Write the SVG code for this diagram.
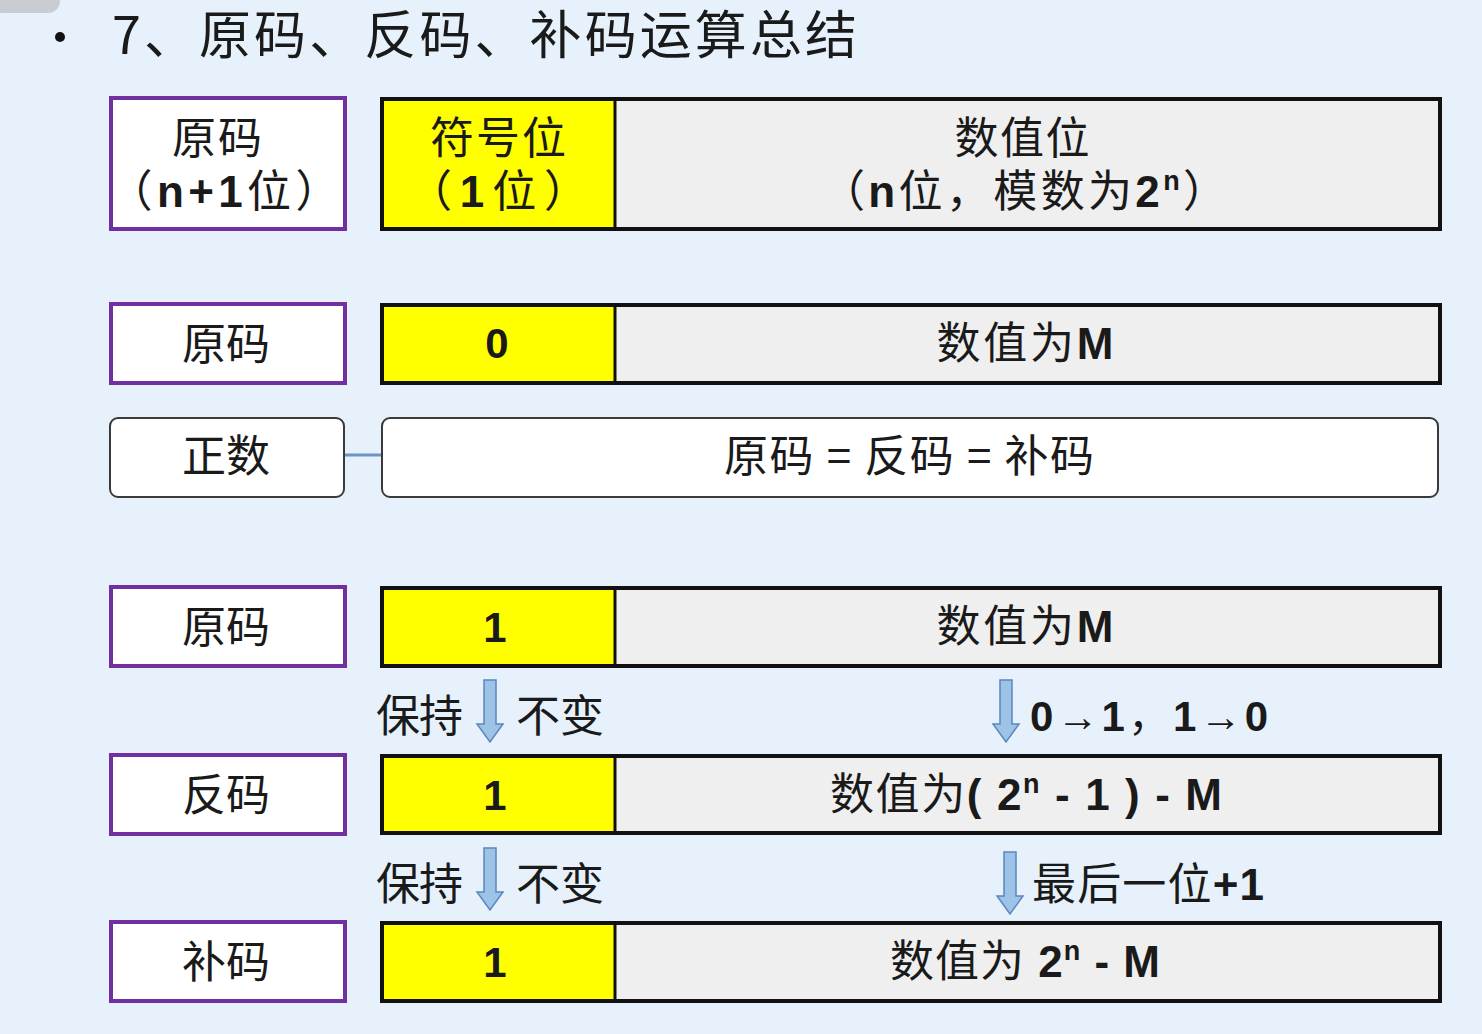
<svg xmlns="http://www.w3.org/2000/svg" width="1482" height="1034" viewBox="0 0 1482 1034">
<style>
.cn{font-family:"Noto Sans CJK SC","Liberation Sans",sans-serif;fill:#1a1a1a}
.mx{font-family:"Liberation Sans","Noto Sans CJK SC",sans-serif;fill:#1a1a1a}
.b{font-weight:bold}
.lbl{fill:#ffffff;stroke:#7030a0;stroke-width:4}
.sign{fill:#ffff00;stroke:none}
.val{fill:#efefef;stroke:none}
.frame{fill:none;stroke:#111111;stroke-width:4}
.div{stroke:#111111;stroke-width:3}
.rnd{fill:#ffffff;stroke:#3a3a3a;stroke-width:2}
.arr{fill:#9dc3e6;stroke:#5b86c0;stroke-width:1.5}
</style>
<defs>
<path id="down" d="M-6,0 L6,0 L6,44 L13,44 L0,62 L-13,44 L-6,44 Z"/>
</defs>
<rect width="1482" height="1034" fill="#e6f1fb"/>
<rect x="-10" y="-20" width="70" height="33" rx="12" fill="#c9cdd2"/>
<g id="title">
<circle cx="60" cy="37" r="5" fill="#111"/>
<text x="112" y="54" class="cn" font-size="52" textLength="745" lengthAdjust="spacing">7、原码、反码、补码运算总结</text>
</g>
<g id="connectors">
<line x1="345" y1="455" x2="382" y2="455" stroke="#6d93c2" stroke-width="3"/>
<use href="#down" x="490" y="680" class="arr"/>
<use href="#down" x="1006" y="680" class="arr"/>
<use href="#down" x="490" y="848" class="arr"/>
<use href="#down" x="1010" y="852" class="arr"/>
</g>
<!-- row 0 -->
<g id="label-header">
<rect x="111" y="98" width="234" height="131" class="lbl"/>
<text x="217" y="154" class="cn" font-size="44" text-anchor="middle" textLength="90" lengthAdjust="spacing">原码</text>
<text x="224" y="207" class="mx" font-size="44" text-anchor="middle" textLength="231" lengthAdjust="spacing">（<tspan class="b">n+1</tspan>位）</text>
</g>
<g id="bits-header">
<rect x="382" y="99" width="232" height="130" class="sign"/>
<rect x="614" y="99" width="826" height="130" class="val"/>
<line x1="615" y1="99" x2="615" y2="229" class="div"/>
<rect x="382" y="99" width="1058" height="130" class="frame"/>
<text x="498" y="154" class="cn" font-size="44" text-anchor="middle" textLength="136" lengthAdjust="spacing">符号位</text>
<text x="498" y="207" class="mx" font-size="44" text-anchor="middle" textLength="180" lengthAdjust="spacing">（<tspan class="b">1</tspan>位）</text>
<text x="1022" y="154" class="cn" font-size="44" text-anchor="middle" textLength="135" lengthAdjust="spacing">数值位</text>
<text x="1024" y="207" class="mx" font-size="44" text-anchor="middle" textLength="406" lengthAdjust="spacing">（<tspan class="b">n</tspan>位，模数为<tspan class="b">2</tspan><tspan class="b" font-size="27" dy="-17">n</tspan><tspan dy="17">）</tspan></text>
</g>
<!-- row 1 -->
<g id="label-pos-orig">
<rect x="111" y="304" width="234" height="79" class="lbl"/>
<text x="226" y="360" class="cn" font-size="44" text-anchor="middle" textLength="88" lengthAdjust="spacing">原码</text>
</g>
<g id="bits-pos-orig">
<rect x="382" y="305" width="232" height="78" class="sign"/>
<rect x="614" y="305" width="826" height="78" class="val"/>
<line x1="615" y1="305" x2="615" y2="383" class="div"/>
<rect x="382" y="305" width="1058" height="78" class="frame"/>
<text x="497" y="358" class="mx b" font-size="42" text-anchor="middle">0</text>
<text x="1025" y="359" class="mx" font-size="44" text-anchor="middle" textLength="177" lengthAdjust="spacing">数值为<tspan class="b">M</tspan></text>
</g>
<!-- row 2 -->
<g id="label-positive">
<rect x="110" y="418" width="234" height="79" rx="8" class="rnd"/>
<text x="226" y="472" class="cn" font-size="44" text-anchor="middle" textLength="88" lengthAdjust="spacing">正数</text>
</g>
<g id="positive-rule">
<rect x="382" y="418" width="1056" height="79" rx="8" class="rnd"/>
<text x="909" y="472" class="cn" font-size="44" text-anchor="middle" textLength="370" lengthAdjust="spacing">原码 = 反码 = 补码</text>
</g>
<!-- row 3 -->
<g id="label-neg-orig">
<rect x="111" y="587" width="234" height="79" class="lbl"/>
<text x="226" y="643" class="cn" font-size="44" text-anchor="middle" textLength="88" lengthAdjust="spacing">原码</text>
</g>
<g id="bits-neg-orig">
<rect x="382" y="588" width="232" height="78" class="sign"/>
<rect x="614" y="588" width="826" height="78" class="val"/>
<line x1="615" y1="588" x2="615" y2="666" class="div"/>
<rect x="382" y="588" width="1058" height="78" class="frame"/>
<text x="495" y="642" class="mx b" font-size="42" text-anchor="middle">1</text>
<text x="1025" y="642" class="mx" font-size="44" text-anchor="middle" textLength="177" lengthAdjust="spacing">数值为<tspan class="b">M</tspan></text>
</g>
<g id="note-keep-1">
<text x="376" y="732" class="cn" font-size="44" textLength="87" lengthAdjust="spacing">保持</text>
<text x="516" y="732" class="cn" font-size="44" textLength="88" lengthAdjust="spacing">不变</text>
</g>
<g id="note-flip">
<text x="1030" y="731" class="mx b" font-size="42" textLength="238" lengthAdjust="spacing">0<tspan font-weight="normal">→</tspan>1<tspan font-weight="normal">，</tspan>1<tspan font-weight="normal">→</tspan>0</text>
</g>
<!-- row 4 -->
<g id="label-neg-ones">
<rect x="111" y="755" width="234" height="79" class="lbl"/>
<text x="226" y="811" class="cn" font-size="44" text-anchor="middle" textLength="88" lengthAdjust="spacing">反码</text>
</g>
<g id="bits-neg-ones">
<rect x="382" y="756" width="232" height="77" class="sign"/>
<rect x="614" y="756" width="826" height="77" class="val"/>
<line x1="615" y1="756" x2="615" y2="833" class="div"/>
<rect x="382" y="756" width="1058" height="77" class="frame"/>
<text x="495" y="810" class="mx b" font-size="42" text-anchor="middle">1</text>
<text x="1026" y="810" class="mx" font-size="44" text-anchor="middle" textLength="392" lengthAdjust="spacing">数值为<tspan class="b">( 2</tspan><tspan class="b" font-size="27" dy="-17">n</tspan><tspan class="b" dy="17"> - 1 ) - M</tspan></text>
</g>
<g id="note-keep-2">
<text x="376" y="900" class="cn" font-size="44" textLength="87" lengthAdjust="spacing">保持</text>
<text x="516" y="900" class="cn" font-size="44" textLength="88" lengthAdjust="spacing">不变</text>
</g>
<g id="note-plus-one">
<text x="1032" y="900" class="mx" font-size="44" textLength="232" lengthAdjust="spacing">最后一位<tspan class="b">+1</tspan></text>
</g>
<!-- row 5 -->
<g id="label-neg-twos">
<rect x="111" y="922" width="234" height="79" class="lbl"/>
<text x="226" y="978" class="cn" font-size="44" text-anchor="middle" textLength="88" lengthAdjust="spacing">补码</text>
</g>
<g id="bits-neg-twos">
<rect x="382" y="923" width="232" height="78" class="sign"/>
<rect x="614" y="923" width="826" height="78" class="val"/>
<line x1="615" y1="923" x2="615" y2="1001" class="div"/>
<rect x="382" y="923" width="1058" height="78" class="frame"/>
<text x="495" y="977" class="mx b" font-size="42" text-anchor="middle">1</text>
<text x="1025" y="977" class="mx" font-size="44" text-anchor="middle" textLength="270" lengthAdjust="spacing">数值为 <tspan class="b">2</tspan><tspan class="b" font-size="27" dy="-17">n</tspan><tspan class="b" dy="17"> - M</tspan></text>
</g>
</svg>
